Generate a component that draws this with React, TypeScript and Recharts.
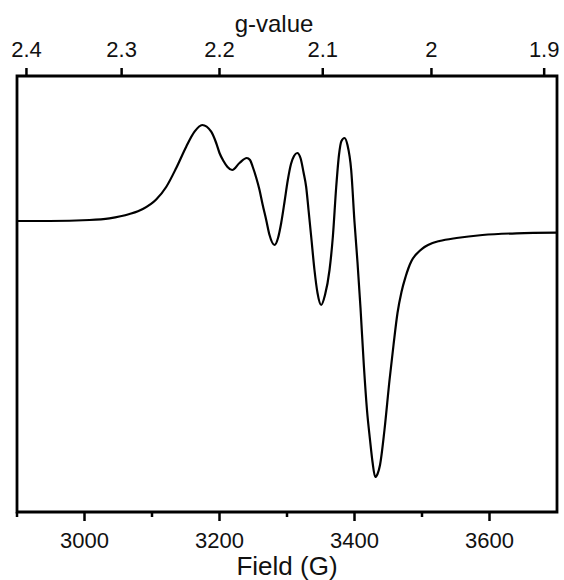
import React from 'react';
import { LineChart, Line, XAxis, YAxis, ReferenceArea } from 'recharts';

// Field (G) sample positions
const fieldValues = [
  2900, 2948, 3007.4, 3037, 3066.7, 3086.4, 3106.2, 3121, 3135.9, 3150.7,
  3163, 3174.4, 3187.7, 3195.1, 3200, 3205.9, 3211.9, 3218.8, 3229.6, 3240.4,
  3245.2, 3249.3, 3254.1, 3259.3, 3263.7, 3269.2, 3274.1, 3281.5, 3286.7, 3291.4,
  3296.3, 3301.2, 3305.9, 3310.4, 3315.1, 3320, 3324.4, 3328.4, 3331.9, 3335.9,
  3340.7, 3345.2, 3350.7, 3356.3, 3363, 3367.9, 3372.9, 3377, 3380.7, 3385.2,
  3389.6, 3395.1, 3400, 3404.4, 3408.9, 3413.8, 3418.5, 3423, 3426.7, 3430.7,
  3434.1, 3437.8, 3444.4, 3451.9, 3457.8, 3463.7, 3469.6, 3475.6, 3480, 3484.4,
  3490.4, 3496.3, 3503.7, 3515.6, 3525.9, 3551.1, 3589.6, 3640, 3700,
];
// EPR first-derivative signal (arbitrary units)
const signalValues = [
  0, 0, 1, 2.7, 7, 12, 21.5, 34, 53, 74.3,
  89.3, 96, 89.3, 78, 68, 60, 54, 51, 58, 63,
  61, 54, 44, 31, 17, 1, -14, -24, -17, -2,
  19, 41, 57, 65, 68, 63, 49, 34, 11, -16,
  -49, -72, -84, -74, -49, -16, 34, 66, 80, 83,
  76, 51, -1, -41, -87, -144, -189, -219, -241, -256,
  -253, -244, -209, -159, -124, -92, -71, -56, -47, -40,
  -34, -30, -26, -22, -20, -17, -14, -12.3, -11.7,
];

const fieldTicks = [2900, 3000, 3100, 3200, 3300, 3400, 3500, 3600];
const fieldTickLabels = ['', '3000', '', '3200', '', '3400', '', '3600'];
const gTickFields = [2914, 3055, 3200, 3353, 3514, 3681];
const gTickLabels = ['2.4', '2.3', '2.2', '2.1', '2', '1.9'];

const fieldMin = 2900;
const fieldMax = 3700;
const signalMin = -291;
const signalMax = 145;

const data = fieldValues.map((f, i) => ({ field: f, signal: signalValues[i] }));

const FONT = '"Liberation Sans", Arial, sans-serif';
const INK = '#111';

const BottomTick = (props: any) => {
  const { x, y, payload } = props;
  const idx = fieldTicks.indexOf(payload.value);
  const label = idx >= 0 ? fieldTickLabels[idx] : '';
  const len = label ? 9 : 5;
  return (
    <g>
      <line x1={x} y1={y} x2={x} y2={y + len} stroke="#000" strokeWidth={2.5} />
      {label && (
        <text x={x} y={y + 36} textAnchor="middle" fontSize={22} fontFamily={FONT} fill={INK}>
          {label}
        </text>
      )}
    </g>
  );
};

const TopTick = (props: any) => {
  const { x, y, payload } = props;
  const idx = gTickFields.indexOf(payload.value);
  const label = idx >= 0 ? gTickLabels[idx] : '';
  return (
    <g>
      <line x1={x} y1={y} x2={x} y2={y - 8} stroke="#000" strokeWidth={2.5} />
      <text x={x} y={y - 19} textAnchor="middle" fontSize={22} fontFamily={FONT} fill={INK}>
        {label}
      </text>
    </g>
  );
};

export default function App() {
  return (
    <div style={{ position: 'absolute', left: 0, top: 0, background: '#fff' }}>
      <LineChart
        width={564}
        height={580}
        data={data}
        margin={{ top: 0, right: 7, bottom: 0, left: 17 }}
      >
        <XAxis
          xAxisId="bottom"
          dataKey="field"
          type="number"
          orientation="bottom"
          domain={[fieldMin, fieldMax]}
          allowDataOverflow
          ticks={fieldTicks}
          interval={0}
          height={68}
          tickSize={0}
          tickMargin={0}
          tickLine={false}
          axisLine={false}
          tick={<BottomTick />}
          label={{ value: 'Field (G)', position: 'insideBottom', offset: 5, fontSize: 26, fontFamily: FONT, fill: INK }}
        />
        <XAxis
          xAxisId="top"
          dataKey="field"
          type="number"
          orientation="top"
          domain={[fieldMin, fieldMax]}
          allowDataOverflow
          ticks={gTickFields}
          interval={0}
          height={76}
          tickSize={0}
          tickMargin={0}
          tickLine={false}
          axisLine={false}
          tick={<TopTick />}
          label={{ value: 'g-value', position: 'insideTop', offset: 15, dx: -13, fontSize: 24, fontFamily: FONT, fill: INK }}
        />
        <YAxis yAxisId="left" type="number" domain={[signalMin, signalMax]} allowDataOverflow hide />
        <ReferenceArea
          xAxisId="bottom"
          yAxisId="left"
          x1={fieldMin}
          x2={fieldMax}
          y1={signalMin}
          y2={signalMax}
          fill="none"
          fillOpacity={0}
          stroke="#000"
          strokeWidth={2.8}
          ifOverflow="visible"
        />
        <Line
          xAxisId="bottom"
          yAxisId="left"
          dataKey="signal"
          type="monotone"
          dot={false}
          stroke="#000"
          strokeWidth={2.2}
          isAnimationActive={false}
        />
      </LineChart>
    </div>
  );
}
